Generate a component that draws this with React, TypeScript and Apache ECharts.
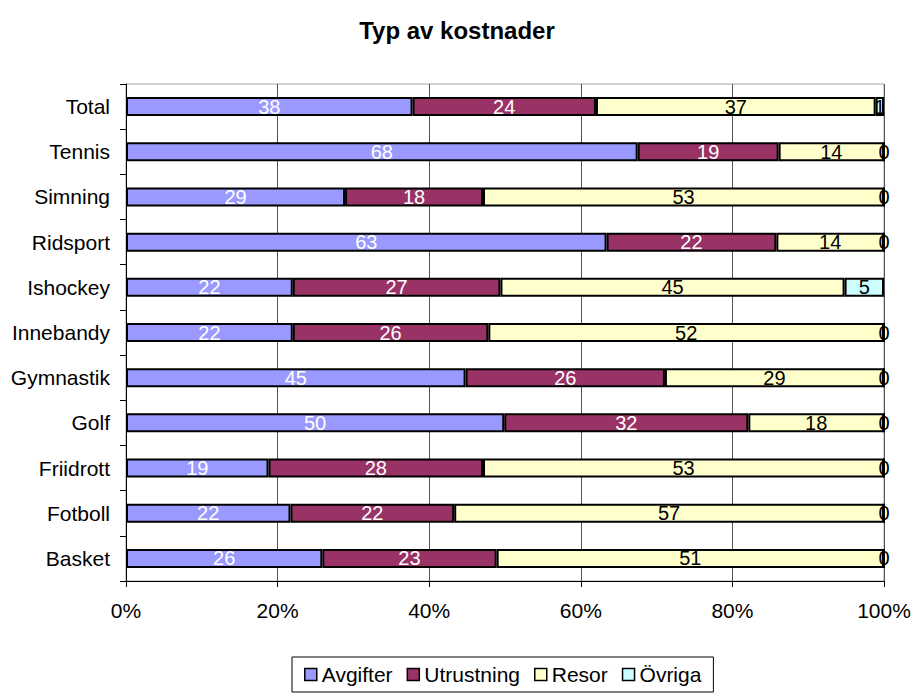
import React, { useEffect, useRef } from "react";
import * as echarts from "echarts";

const categories = [
  "Basket",
  "Fotboll",
  "Friidrott",
  "Golf",
  "Gymnastik",
  "Innebandy",
  "Ishockey",
  "Ridsport",
  "Simning",
  "Tennis",
  "Total",
];

const avgifter = [25.9, 21.7, 18.8, 49.9, 44.8, 22.0, 22.0, 63.4, 28.9, 67.5, 37.8];
const utrustning = [23.0, 21.6, 28.3, 32.2, 26.3, 25.8, 27.4, 22.4, 18.2, 18.6, 24.2];
const resor = [51.1, 56.7, 52.9, 17.9, 28.9, 52.2, 45.4, 14.2, 52.9, 13.9, 36.9];
const ovriga = [0, 0, 0, 0, 0, 0, 5.2, 0, 0, 0, 1.1];

const tickLabels = ["0%", "20%", "40%", "60%", "80%", "100%"];

const seriesNames = ["Avgifter", "Utrustning", "Resor", "Övriga"];
const seriesColors = ["#9999FF", "#993366", "#FFFFCC", "#CCFFFF"];
const labelColors = ["#ffffff", "#ffffff", "#000000", "#000000"];

export default function App() {
  const ref = useRef<HTMLDivElement>(null);

  useEffect(() => {
    if (!ref.current) return;
    const chart = echarts.init(ref.current, undefined, { renderer: "svg" });
    const font = "Liberation Sans, Arial, sans-serif";
    const allData = [avgifter, utrustning, resor, ovriga];
    const series = allData.map((d, i) => ({
      name: seriesNames[i],
      type: "bar" as const,
      stack: "total",
      data: d,
      barWidth: 19,
      itemStyle: {
        color: seriesColors[i],
        borderColor: "#000000",
        borderWidth: 2,
      },
      label: {
        show: true,
        position: "inside" as const,
        color: labelColors[i],
        fontFamily: font,
        fontSize: 20,
        formatter: (p: any) => String(Math.round(p.value)),
      },
    }));

    chart.setOption({
      animation: false,
      backgroundColor: "#ffffff",
      title: {
        text: "Typ av kostnader",
        left: "center",
        top: 13,
        textStyle: {
          fontFamily: font,
          fontSize: 24,
          fontWeight: "bold",
          color: "#000000",
        },
      },
      legend: {
        data: seriesNames,
        left: 292,
        top: 657,
        itemWidth: 12,
        itemHeight: 12,
        itemGap: 14,
        padding: [7, 12, 7, 12],
        borderColor: "#000000",
        borderWidth: 1,
        icon: "rect",
        itemStyle: { borderColor: "#000000", borderWidth: 1.5 },
        textStyle: {
          fontFamily: font,
          fontSize: 21,
          color: "#000000",
        },
      },
      grid: {
        left: 126,
        right: 30,
        top: 84,
        bottom: 112,
        show: true,
        borderColor: "#a0a0a0",
        borderWidth: 1,
        backgroundColor: "transparent",
      },
      xAxis: {
        type: "value",
        min: 0,
        max: 100,
        interval: 20,
        axisLine: { show: true, lineStyle: { color: "#000000", width: 1 } },
        axisTick: { show: true, length: 6, lineStyle: { color: "#000000" } },
        splitLine: { show: true, lineStyle: { color: "#555555", width: 1 } },
        axisLabel: {
          margin: 19,
          fontFamily: font,
          fontSize: 21,
          color: "#000000",
          formatter: (v: number) => tickLabels[Math.round(v / 20)],
        },
      },
      yAxis: {
        type: "category",
        data: categories,
        axisLine: { show: true, lineStyle: { color: "#000000", width: 1 } },
        axisTick: { show: true, length: 6, lineStyle: { color: "#000000" } },
        axisLabel: {
          margin: 16,
          fontFamily: font,
          fontSize: 21,
          color: "#000000",
        },
      },
      series,
    });

    return () => chart.dispose();
  }, []);

  return <div ref={ref} style={{ width: 914, height: 693, position: "absolute", left: 0, top: 0 }} />;
}
